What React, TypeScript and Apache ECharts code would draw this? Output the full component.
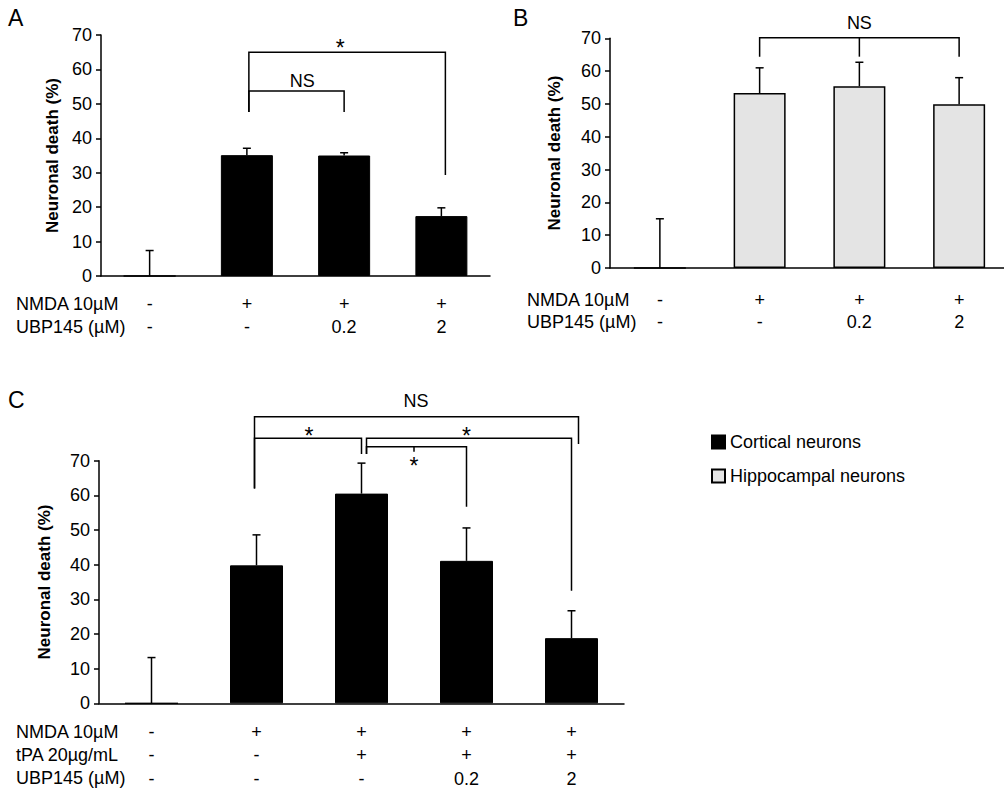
import React, { useEffect, useRef } from 'react';
import * as echarts from 'echarts';

const FONT = '"Liberation Sans", Arial, Helvetica, sans-serif';

// ---------- Panel A (cortical neurons) ----------
const catsA = ['Control', 'NMDA', 'NMDA + UBP145 0.2', 'NMDA + UBP145 2'];
const valuesA = [0, 35.1, 35.0, 17.4];
const errTopA = [7.4, 37.1, 35.8, 19.8];
const nmdaRowA = ['-', '+', '+', '+'];
const ubpRowA = ['-', '-', '0.2', '2'];

// ---------- Panel B (hippocampal neurons) ----------
const catsB = ['Control', 'NMDA', 'NMDA + UBP145 0.2', 'NMDA + UBP145 2'];
const valuesB = [0, 53.3, 55.4, 49.9];
const errTopB = [15.0, 61.0, 62.7, 58.0];
const nmdaRowB = ['-', '+', '+', '+'];
const ubpRowB = ['-', '-', '0.2', '2'];

// ---------- Panel C (cortical neurons + tPA) ----------
const catsC = ['Control', 'NMDA', 'NMDA + tPA', 'NMDA + tPA + UBP145 0.2', 'NMDA + tPA + UBP145 2'];
const valuesC = [0, 39.8, 60.5, 41.1, 18.8];
const errTopC = [13.2, 48.6, 69.3, 50.6, 26.7];
const nmdaRowC = ['-', '+', '+', '+', '+'];
const tpaRowC = ['-', '-', '+', '+', '+'];
const ubpRowC = ['-', '-', '-', '0.2', '2'];

// y axis ticks
const yMin = 0;
const yMax = 70;
const yStep = 10;

// significance brackets (category index, value units)
const bracketsA = [
  { from: 1, to: 2, top: 53.7, fromEnd: 47.6, toEnd: 47.6, label: 'NS', labelAt: 1.57, labelY: 56.6, dxFrom: 2 },
  { from: 1, to: 3, top: 65.0, fromEnd: 47.6, toEnd: 29.3, label: '*', labelAt: 1.96, labelY: 66.2, dxFrom: 2, dxTo: 4 },
];
const bracketsB = [
  { from: 1, to: 3, top: 70.2, fromEnd: 64.4, toEnd: 64.4, mid: 2, midEnd: 64.4, label: 'NS', labelAt: 2, labelY: 74.8 },
];
const bracketsC = [
  { from: 1, to: 4, top: 82.7, fromEnd: 62.0, toEnd: 74.8, label: 'NS', labelAt: 2.52, labelY: 87.3, dxFrom: -2, dxTo: 7 },
  { from: 1, to: 2, top: 76.5, fromEnd: 62.0, toEnd: 71.9, label: '*', labelAt: 1.5, labelY: 77.0, dxFrom: -2 },
  { from: 2, to: 4, top: 76.5, fromEnd: 71.9, toEnd: 32.5, label: '*', labelAt: 3.0, labelY: 77.0, dxFrom: 5 },
  { from: 2, to: 3, top: 74.0, fromEnd: 71.9, toEnd: 56.7, mid: 2.5, midEnd: 72.6, label: '*', labelAt: 2.5, labelY: 68.4, dxFrom: 5 },
];

const legendNames = ['Cortical neurons', 'Hippocampal neurons'];

function yAxisOf(gridIndex: number, nameGap: number) {
  return {
    type: 'value',
    gridIndex,
    min: yMin,
    max: yMax,
    interval: yStep,
    name: 'Neuronal death (%)',
    nameLocation: 'middle',
    nameGap,
    nameRotate: 90,
    nameTextStyle: { fontFamily: FONT, fontSize: 17, fontWeight: 'bold', color: '#000' },
    axisLine: { show: true, lineStyle: { color: '#000', width: 1.5 } },
    axisTick: { show: true, length: 5, lineStyle: { color: '#000', width: 1.5 } },
    axisLabel: { fontFamily: FONT, fontSize: 18, color: '#000', margin: 9 },
    splitLine: { show: false },
  };
}

function xAxisOf(gridIndex: number, cats: string[], rows: string[][], margin: number, lineHeight: number) {
  return {
    type: 'category',
    gridIndex,
    data: cats,
    boundaryGap: true,
    axisLine: { show: true, onZero: false, lineStyle: { color: '#000', width: 1.5 } },
    axisTick: { show: false },
    axisLabel: {
      interval: 0,
      margin,
      fontFamily: FONT,
      fontSize: 18,
      color: '#000',
      lineHeight,
      formatter: (_v: string, i: number) => rows.map((r) => r[i]).join('\n'),
    },
    splitLine: { show: false },
  };
}

// pixel x of a (possibly fractional) category position
function catX(api: any, v: number) {
  const lo = Math.floor(v);
  const hi = Math.ceil(v);
  const x0 = api.coord([lo, 0])[0];
  if (hi === lo) return x0;
  const x1 = api.coord([hi, 0])[0];
  return x0 + (v - lo) * (x1 - x0);
}

function errorSeries(idx: number, cats: string[], values: number[], tops: number[]) {
  return {
    type: 'custom',
    name: 'err' + idx,
    xAxisIndex: idx,
    yAxisIndex: idx,
    z: 5,
    encode: { x: 0, y: [1, 2] },
    data: cats.map((_c, i) => [i, values[i], tops[i]]),
    renderItem: (_p: any, api: any) => {
      const base = api.coord([api.value(0), api.value(1)]);
      const top = api.coord([api.value(0), api.value(2)]);
      const st = { stroke: '#000', lineWidth: 1.5 };
      return {
        type: 'group',
        children: [
          { type: 'line', shape: { x1: base[0], y1: base[1], x2: top[0], y2: top[1] }, style: st },
          { type: 'line', shape: { x1: top[0] - 4, y1: top[1], x2: top[0] + 4, y2: top[1] }, style: st },
        ],
      };
    },
  };
}

function bracketSeries(idx: number, brackets: any[]) {
  return {
    type: 'custom',
    name: 'sig' + idx,
    xAxisIndex: idx,
    yAxisIndex: idx,
    z: 6,
    clip: false,
    encode: { x: 0, y: 1 },
    data: brackets.map((b) => [b.from, b.top]),
    renderItem: (p: any, api: any) => {
      const b = brackets[p.dataIndex];
      const xf = catX(api, b.from) + (b.dxFrom || 0);
      const xt = catX(api, b.to) + (b.dxTo || 0);
      const yTop = api.coord([b.from, b.top])[1];
      const yF = api.coord([b.from, b.fromEnd])[1];
      const yT = api.coord([b.to, b.toEnd])[1];
      const st = { stroke: '#000', lineWidth: 1.5, fill: null };
      const children: any[] = [
        { type: 'polyline', shape: { points: [[xf, yF], [xf, yTop], [xt, yTop], [xt, yT]] }, style: st },
      ];
      if (b.mid !== undefined) {
        const xm = catX(api, b.mid);
        const ym = api.coord([b.mid, b.midEnd])[1];
        children.push({ type: 'line', shape: { x1: xm, y1: yTop, x2: xm, y2: ym }, style: st });
      }
      const lx = catX(api, b.labelAt);
      const ly = api.coord([b.from, b.labelY])[1];
      children.push({
        type: 'text',
        x: lx,
        y: ly,
        style: {
          text: b.label,
          fontFamily: FONT,
          fontSize: b.label === '*' ? 23 : 18,
          fill: '#000',
          align: 'center',
          verticalAlign: 'middle',
        },
      });
      return { type: 'group', children };
    },
  };
}

function rowHeader(text: string, x: number, y: number) {
  return {
    type: 'text',
    x,
    y,
    style: { text, fontFamily: FONT, fontSize: 18, fill: '#000', align: 'left', verticalAlign: 'middle' },
  };
}

function panelLetter(text: string, x: number, y: number) {
  return {
    type: 'text',
    x,
    y,
    style: { text, fontFamily: FONT, fontSize: 23, fill: '#000', align: 'left', verticalAlign: 'middle' },
  };
}

export default function App() {
  const ref = useRef<HTMLDivElement>(null);

  useEffect(() => {
    document.body.style.margin = '0';
    if (!ref.current) return;
    const chart = echarts.init(ref.current, undefined, { renderer: 'svg' });
    chart.setOption({
      animation: false,
      backgroundColor: '#fff',
      textStyle: { fontFamily: FONT },
      grid: [
        { left: 101, top: 35, width: 389, height: 241, containLabel: false, outerBoundsMode: 'none' },
        { left: 610, top: 38.3, width: 399, height: 229.7, containLabel: false, outerBoundsMode: 'none' },
        { left: 99, top: 460.7, width: 525, height: 242.6, containLabel: false, outerBoundsMode: 'none' },
      ],
      xAxis: [
        xAxisOf(0, catsA, [nmdaRowA, ubpRowA], 16, 23),
        xAxisOf(1, catsB, [nmdaRowB, ubpRowB], 21, 22),
        xAxisOf(2, catsC, [nmdaRowC, tpaRowC, ubpRowC], 17, 23.3),
      ],
      yAxis: [yAxisOf(0, 40), yAxisOf(1, 47), yAxisOf(2, 46)],
      legend: {
        orient: 'vertical',
        left: 706,
        top: 428,
        itemWidth: 13,
        itemHeight: 13,
        itemGap: 16,
        icon: 'rect',
        data: legendNames,
        textStyle: { fontFamily: FONT, fontSize: 18, color: '#000' },
      },
      series: [
        {
          type: 'bar',
          name: legendNames[0],
          xAxisIndex: 0,
          yAxisIndex: 0,
          barWidth: 52,
          data: valuesA,
          itemStyle: { color: '#000', borderColor: '#000', borderWidth: 1 },
        },
        {
          type: 'bar',
          name: legendNames[1],
          xAxisIndex: 1,
          yAxisIndex: 1,
          barWidth: 52,
          data: valuesB,
          itemStyle: { color: '#e4e4e4', borderColor: '#000', borderWidth: 1.5 },
        },
        {
          type: 'bar',
          name: legendNames[0],
          xAxisIndex: 2,
          yAxisIndex: 2,
          barWidth: 53,
          data: valuesC,
          itemStyle: { color: '#000', borderColor: '#000', borderWidth: 1 },
        },
        errorSeries(0, catsA, valuesA, errTopA),
        errorSeries(1, catsB, valuesB, errTopB),
        errorSeries(2, catsC, valuesC, errTopC),
        bracketSeries(0, bracketsA),
        bracketSeries(1, bracketsB),
        bracketSeries(2, bracketsC),
      ],
      graphic: [
        panelLetter('A', 8, 18),
        panelLetter('B', 513, 18),
        panelLetter('C', 8, 400),
        rowHeader('NMDA 10µM', 16, 304),
        rowHeader('UBP145 (µM)', 16, 327),
        rowHeader('NMDA 10µM', 527, 300),
        rowHeader('UBP145 (µM)', 527, 322),
        rowHeader('NMDA 10µM', 16, 732),
        rowHeader('tPA 20µg/mL', 16, 755),
        rowHeader('UBP145 (µM)', 16, 778),
      ],
    });
    return () => chart.dispose();
  }, []);

  return <div ref={ref} style={{ width: 1004, height: 793 }} />;
}
